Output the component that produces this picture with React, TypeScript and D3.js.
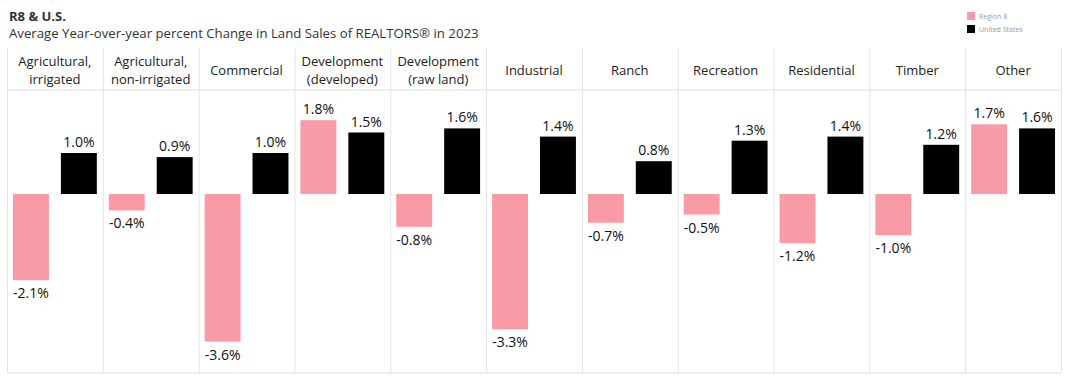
import React from "react";
import * as d3 from "d3";

const categories: string[][] = [
  ["Agricultural,", "irrigated"],
  ["Agricultural,", "non-irrigated"],
  ["Commercial"],
  ["Development", "(developed)"],
  ["Development", "(raw land)"],
  ["Industrial"],
  ["Ranch"],
  ["Recreation"],
  ["Residential"],
  ["Timber"],
  ["Other"],
];
const region8 = [-2.1, -0.4, -3.6, 1.8, -0.8, -3.3, -0.7, -0.5, -1.2, -1.0, 1.7];
const unitedStates = [1.0, 0.9, 1.0, 1.5, 1.6, 1.4, 0.8, 1.3, 1.4, 1.2, 1.6];
const seriesNames = ["Region 8", "United States"];
const colors = ["#f89ba6", "#000000"];

const W = 1068;
const H = 382;
const left = 7;
const right = 1061;
const headerTop = 48;
const headerBottom = 90;
const plotBottom = 373;

export default function App() {
  const x = d3
    .scaleBand<number>()
    .domain(categories.map((_, i) => i))
    .range([left, right]);
  const inner = d3
    .scaleBand<number>()
    .domain([0, 1])
    .range([0, x.bandwidth()])
    .paddingInner(0.25)
    .paddingOuter(0.125);
  const y = d3.scaleLinear().domain([-3.6, 1.8]).range([341.6, 120.2]);
  const font = "'Open Sans', sans-serif";

  return (
    <svg
      width={W}
      height={H}
      style={{ position: "absolute", left: 0, top: 0, background: "#fff" }}
      fontFamily={font}
    >
      <text x={9} y={21} fontSize={13} fontWeight={700} fill="#333">
        R8 &amp; U.S.
      </text>
      <text x={9} y={38} fontSize={13.2} fill="#333">
        Average Year-over-year percent Change in Land Sales of REALTORS® in 2023
      </text>

      {/* legend */}
      {seriesNames.map((n, i) => (
        <g key={n} transform={`translate(967,${12 + i * 13})`}>
          <rect width={8} height={8} fill={colors[i]} />
          <text x={12} y={7} fontSize={7} fill="#999">
            {n}
          </text>
        </g>
      ))}

      {/* grid lines */}
      <line x1={left} x2={right} y1={headerBottom} y2={headerBottom} stroke="#e8e8e8" strokeWidth={1.5} />
      <line x1={left} x2={right} y1={plotBottom} y2={plotBottom} stroke="#e8e8e8" strokeWidth={1.5} />
      {categories.map((_, i) => (
        <line
          key={"v" + i}
          x1={x(i)! + 0.5}
          x2={x(i)! + 0.5}
          y1={headerTop}
          y2={plotBottom}
          stroke="#e4e4e4"
        />
      ))}
      <line x1={right + 0.5} x2={right + 0.5} y1={headerTop} y2={plotBottom} stroke="#e4e4e4" />

      {/* headers */}
      {categories.map((lines, i) => {
        const cx = x(i)! + x.bandwidth() / 2;
        const startY = lines.length === 1 ? 75 : 66;
        return (
          <text key={"h" + i} x={cx} textAnchor="middle" fontSize={13} fill="#222">
            {lines.map((l, j) => (
              <tspan key={j} x={cx} y={startY + j * 18}>
                {l}
              </tspan>
            ))}
          </text>
        );
      })}

      {/* bars */}
      {categories.map((_, i) =>
        [region8[i], unitedStates[i]].map((v, s) => {
          const bx = x(i)! + inner(s)!;
          const y0 = y(0);
          const yv = y(v);
          const top = Math.min(y0, yv);
          const h = Math.abs(yv - y0);
          const lx = bx + inner.bandwidth() / 2;
          const ly = v >= 0 ? yv - 6 : yv + 18;
          return (
            <g key={`b${i}-${s}`}>
              <rect x={bx} y={top} width={inner.bandwidth()} height={h} fill={colors[s]} />
              <text x={lx} y={ly} textAnchor="middle" fontSize={14} fill="#111">
                {v.toFixed(1)}%
              </text>
            </g>
          );
        })
      )}
    </svg>
  );
}
